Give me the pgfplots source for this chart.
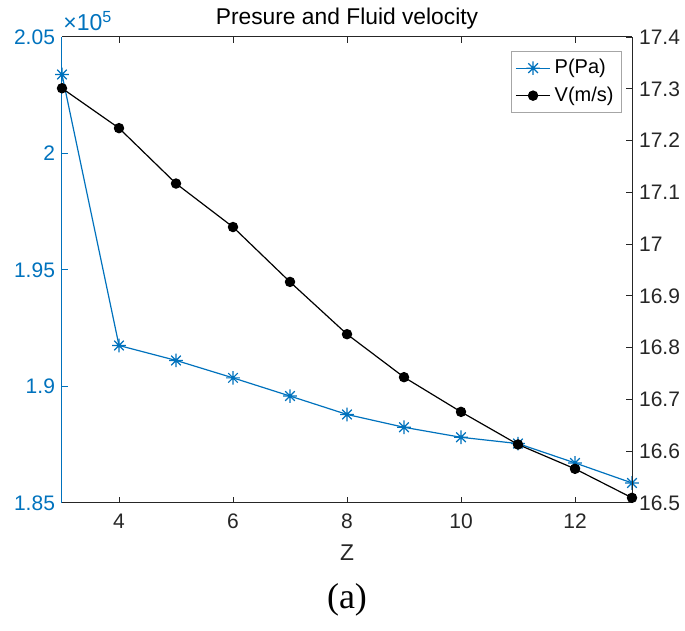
\documentclass[border=0pt]{standalone}
\usepackage{fontspec}
\setmainfont{Liberation Sans}
\newfontfamily\seriffont{Liberation Serif}
\usepackage{pgfplots}
\pgfplotsset{compat=1.18}
\definecolor{mblue}{RGB}{0,114,189}
\definecolor{mgray}{RGB}{38,38,38}
\pgfdeclareplotmark{mstar}{%
  \pgfpathmoveto{\pgfpoint{0pt}{\pgfplotmarksize}}%
  \pgfpathlineto{\pgfpoint{0pt}{-\pgfplotmarksize}}%
  \pgfpathmoveto{\pgfpoint{\pgfplotmarksize}{0pt}}%
  \pgfpathlineto{\pgfpoint{-\pgfplotmarksize}{0pt}}%
  \pgfpathmoveto{\pgfpoint{0.7071\pgfplotmarksize}{0.7071\pgfplotmarksize}}%
  \pgfpathlineto{\pgfpoint{-0.7071\pgfplotmarksize}{-0.7071\pgfplotmarksize}}%
  \pgfpathmoveto{\pgfpoint{0.7071\pgfplotmarksize}{-0.7071\pgfplotmarksize}}%
  \pgfpathlineto{\pgfpoint{-0.7071\pgfplotmarksize}{0.7071\pgfplotmarksize}}%
  \pgfusepathqstroke}
\begin{document}
\begin{tikzpicture}
\useasboundingbox (-31pt,-64pt) rectangle (311.5pt,251.5pt);
\begin{axis}[
  name=ax1,
  scale only axis, width=285pt, height=233pt,
  xmin=3, xmax=13, ymin=185000, ymax=205000,
  xtick={4,6,8,10,12},
  ytick={185000,190000,195000,200000,205000},
  yticklabels={1.85,1.9,1.95,2,2.05},
  scaled y ticks=false,
  axis y line*=left,
  axis line style={mgray, line width=0.5pt},
  y axis line style={mblue},
  ytick style={mblue, line width=0.5pt},
  xtick style={mgray, line width=0.5pt},
  major tick length=3pt,
  /pgf/number format/assume math mode=true,
  yticklabel style={text=mblue, font=\fontsize{10.5}{12}\selectfont},
  xticklabel style={text=mgray, font=\fontsize{10.5}{12}\selectfont, yshift=-2pt},
  every axis title shift=0pt,
  title={Presure and Fluid velocity},
  title style={at={(axis description cs:0.5,1)}, anchor=base, yshift=6pt, font=\fontsize{11.4}{13}\selectfont},
  xlabel={Z},
  xlabel style={at={(axis description cs:0.5,-0.107)}, anchor=center, text=mgray, font=\fontsize{11.4}{13}\selectfont},
]
\addplot[mblue, line width=0.6pt, mark=mstar, mark size=3.4pt] coordinates {
 (3,203390) (4,191760) (5,191120) (6,190370) (7,189590) (8,188800)
 (9,188250) (10,187820) (11,187550) (12,186720) (13,185860)
};
\end{axis}
\node[anchor=base west, inner sep=0pt, text=mblue, font=\fontsize{11.5}{13}\selectfont] at ([xshift=0.5pt,yshift=3pt]ax1.north west) {×10\textsuperscript{5}};
\begin{axis}[
  scale only axis, width=285pt, height=233pt,
  xmin=3, xmax=13, ymin=16.5, ymax=17.4,
  axis x line=none,
  axis y line*=right,
  ytick={16.5,16.6,16.7,16.8,16.9,17,17.1,17.2,17.3,17.4},
  axis line style={mgray, line width=0.5pt},
  ytick style={mgray, line width=0.5pt},
  major tick length=3pt,
  /pgf/number format/assume math mode=true,
  yticklabel style={text=mgray, font=\fontsize{10.5}{12}\selectfont},
  legend style={at={(axis description cs:1,1)}, anchor=north east, xshift=-5pt, yshift=-7pt,
    draw=gray!70, fill=white, font=\fontsize{10}{12}\selectfont, row sep=1pt, inner sep=2pt},
  legend cell align=left,
]
\addlegendimage{mblue, line width=0.6pt, mark=mstar, mark size=3.4pt}
\addlegendentry{P(Pa)}
\addplot[black, line width=0.6pt, mark=*, mark size=2.3pt, mark options={fill=black}] coordinates {
 (3,17.301) (4,17.224) (5,17.117) (6,17.033) (7,16.927) (8,16.826)
 (9,16.743) (10,16.676) (11,16.613) (12,16.566) (13,16.510)
};
\addlegendentry{V(m/s)}
\end{axis}
\node[font=\seriffont\fontsize{18}{20}\selectfont] at (142.5pt,-48.5pt) {(a)};
\end{tikzpicture}
\end{document}
